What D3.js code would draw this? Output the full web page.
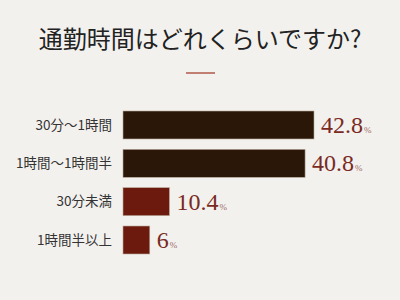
<!DOCTYPE html>
<html>
<head>
<meta charset="utf-8">
<script src="https://cdn.jsdelivr.net/npm/d3@7"></script>
<style>
  html, body { margin: 0; padding: 0; background: #f3f1ee; }
  svg { display: block; }
</style>
</head>
<body>
<div id="chart-area"></div>
<script>
// data
const categories = ["30分～1時間", "1時間～1時間半", "30分未満", "1時間半以上"]
const values = [42.8, 40.8, 10.4, 6]
const valueLabels = ["42.8", "40.8", "10.4", "6"]
const barColors = ["#2a1708", "#2a1708", "#6b1a0d", "#6b1a0d"]

const W = 400, H = 300
const MARGIN = { LEFT: 123, TOP: 111 }
const PLOT_W = 191
const PLOT_H = 143

const svg = d3.select("#chart-area").append("svg")
  .attr("width", W)
  .attr("height", H)

svg.append("rect").attr("width", W).attr("height", H).attr("fill", "#f3f1ee")

// title
svg.append("text")
  .attr("x", W / 2)
  .attr("y", 48)
  .attr("text-anchor", "middle")
  .attr("font-family", "'Noto Sans CJK JP', sans-serif")
  .attr("font-size", "24px")
  .attr("fill", "#222")
  .text("通勤時間はどれくらいですか?")

svg.append("line")
  .attr("x1", 186).attr("x2", 215)
  .attr("y1", 73).attr("y2", 73)
  .attr("stroke", "#b0584a")
  .attr("stroke-width", 1.5)

const g = svg.append("g")
  .attr("transform", `translate(${MARGIN.LEFT}, ${MARGIN.TOP})`)

const x = d3.scaleLinear()
  .domain([0, d3.max(values)])
  .range([0, PLOT_W])

const y = d3.scaleBand()
  .domain(categories)
  .range([0, PLOT_H])
  .paddingInner(0.27)
  .paddingOuter(0)

// category labels
g.selectAll("text.cat")
  .data(categories)
  .enter().append("text")
  .attr("class", "cat")
  .attr("x", -11)
  .attr("y", d => y(d) + y.bandwidth() / 2)
  .attr("dy", "0.35em")
  .attr("text-anchor", "end")
  .attr("font-family", "'Noto Sans CJK JP', sans-serif")
  .attr("font-size", "13.5px")
  .attr("fill", "#333")
  .text(d => d)

// bars
g.selectAll("rect.bar")
  .data(values)
  .enter().append("rect")
  .attr("class", "bar")
  .attr("x", 0)
  .attr("y", (d, i) => y(categories[i]))
  .attr("width", d => x(d))
  .attr("height", y.bandwidth())
  .attr("fill", (d, i) => barColors[i])
  .attr("stroke", "#b9a99a")
  .attr("stroke-width", 0.6)

// value labels
const vl = g.selectAll("text.val")
  .data(values)
  .enter().append("text")
  .attr("class", "val")
  .attr("x", d => x(d) + 7)
  .attr("y", (d, i) => y(categories[i]) + y.bandwidth() / 2 + 8)
  .attr("font-family", "'Liberation Serif', 'DejaVu Serif', serif")
  .attr("fill", "#7a2a1f")

vl.append("tspan")
  .attr("font-size", "24px")
  .text((d, i) => valueLabels[i])

vl.append("tspan")
  .attr("font-size", "9px")
  .attr("fill", "#9a6a62")
  .attr("dx", 1)
  .text("%")
</script>
</body>
</html>
